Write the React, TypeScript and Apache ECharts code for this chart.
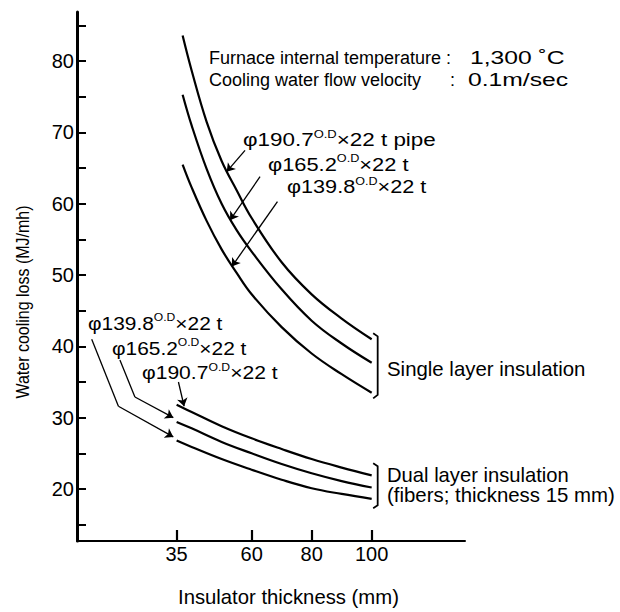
import React, { useEffect, useRef } from "react";
import * as echarts from "echarts";

const FF = "'Liberation Sans', Arial, Helvetica, sans-serif";

// Axis ranges, ticks / labels
const X_MIN = 1.8;
const X_MAX = 131.1;
const Y_MIN = 12.7;
const Y_MAX = 86.9;
const xTicks = [35, 60, 80, 100];
const yTicks = [15, 20, 25, 30, 35, 40, 45, 50, 55, 60, 65, 70, 75, 80, 85];
const yLabels = [20, 30, 40, 50, 60, 70, 80];

// Single layer insulation curves (x = insulator thickness mm)
const singleX = [37, 40, 45, 50, 55, 60, 70, 80, 90, 100];
const single1907 = [83.6, 78.7, 71.5, 66.0, 61.9, 58.0, 51.8, 47.3, 43.9, 41.0];
const single1652 = [75.3, 71.0, 64.9, 60.0, 56.3, 53.3, 48.0, 43.6, 40.4, 37.7];
const single1398 = [65.5, 62.3, 57.6, 53.6, 50.3, 47.3, 42.7, 39.0, 36.1, 33.5];

// Dual layer insulation curves
const dualX = [35, 40, 50, 60, 70, 80, 90, 100];
const dual1907 = [31.8, 30.8, 28.8, 27.1, 25.6, 24.2, 23.0, 21.9];
const dual1652 = [29.4, 28.5, 26.6, 25.0, 23.5, 22.2, 21.1, 20.2];
const dual1398 = [26.8, 25.9, 24.2, 22.7, 21.3, 20.1, 19.3, 18.6];

// Annotation arrows (data coords): straight arrows with heads
const arrowSegments = [
  [[57.8, 67.5], [51.7, 64.5]],
  [[62.8, 63.8], [52.8, 57.7]],
  [[68.6, 60.3], [53.4, 51.2]],
  [[15.6, 31.6], [33.9, 27.3]],
  [[21.1, 32.9], [33.9, 30.0]],
  [[35.6, 35.0], [37.5, 31.6]],
];
// Leader lines without heads
const leaderSegments = [
  [[6.7, 41.0], [15.6, 31.6]],
  [[16.1, 38.1], [21.1, 32.9]],
];
// Brackets
const bracketSingle = [[100.5, 41.85], [102.0, 41.4], [102.0, 33.2], [100.5, 32.7]];
const bracketDual = [[100.5, 23.6], [102.0, 23.2], [102.0, 17.7], [100.5, 17.3]];

const supLabel = (d: string, tail: string) => `{m|φ${d}}{s|O.D}{m|×22 t${tail}}`;

export default function App() {
  const ref = useRef<HTMLDivElement>(null);
  useEffect(() => {
    if (!ref.current) return;
    const chart = echarts.init(ref.current, null, { renderer: "svg" });
    const curve = (xs: number[], ys: number[]) => ({
      type: "line",
      data: xs.map((x, i) => [x, ys[i]]),
      smooth: 0.4,
      symbol: "none",
      lineStyle: { color: "#000", width: 2.2 },
      silent: true,
    });
    const rich = {
      m: { fontSize: 19, fontFamily: FF, lineHeight: 22, fill: "#000" },
      s: { fontSize: 11, fontFamily: FF, lineHeight: 10, verticalAlign: "top", fill: "#000" },
    };
    const txt = (x: number, y: number, text: string, size = 18, sx = 1, sy = 1) => ({
      type: "text",
      x,
      y,
      scaleX: sx,
      scaleY: sy,
      silent: true,
      style: {
        text,
        fill: "#000",
        fontSize: size,
        fontFamily: FF,
        textAlign: "left",
        textVerticalAlign: "middle",
        align: "left",
        verticalAlign: "middle",
      },
    });
    const richTxt = (x: number, y: number, text: string, sx = 1.14) => ({
      type: "text",
      x,
      y,
      scaleX: sx,
      silent: true,
      style: {
        text,
        rich,
        fill: "#000",
        fontSize: 19,
        fontFamily: FF,
        textAlign: "left",
        textVerticalAlign: "middle",
        align: "left",
        verticalAlign: "middle",
      },
    });
    chart.setOption({
      animation: false,
      backgroundColor: "#fff",
      grid: { left: 77, right: 155, top: 12, bottom: 71 },
      xAxis: {
        type: "value",
        min: X_MIN,
        max: X_MAX,
        axisLine: { show: true, onZero: false, lineStyle: { color: "#000", width: 2 } },
        axisTick: { show: true, inside: true, length: 11, customValues: xTicks, lineStyle: { color: "#000", width: 2.2 } },
        axisLabel: { customValues: xTicks, color: "#000", fontSize: 20, fontFamily: FF, margin: 3 },
        splitLine: { show: false },
      },
      yAxis: {
        type: "value",
        min: Y_MIN,
        max: Y_MAX,
        axisLine: { show: true, onZero: false, lineStyle: { color: "#000", width: 3 } },
        axisTick: { show: true, inside: true, length: 9, customValues: yTicks, lineStyle: { color: "#000", width: 2 } },
        axisLabel: { customValues: yLabels, color: "#000", fontSize: 20, fontFamily: FF, margin: 3 },
        splitLine: { show: false },
      },
      series: [
        curve(singleX, single1907),
        curve(singleX, single1652),
        curve(singleX, single1398),
        curve(dualX, dual1907),
        curve(dualX, dual1652),
        curve(dualX, dual1398),
        {
          type: "lines",
          coordinateSystem: "cartesian2d",
          symbol: ["none", "arrow"],
          symbolSize: 8,
          silent: true,
          lineStyle: { color: "#000", width: 1.3, opacity: 1, curveness: 0 },
          data: arrowSegments.map((c) => ({ coords: c })),
        },
        {
          type: "lines",
          coordinateSystem: "cartesian2d",
          polyline: true,
          silent: true,
          lineStyle: { color: "#000", width: 1.3, opacity: 1 },
          data: leaderSegments.map((c) => ({ coords: c })),
        },
        {
          type: "lines",
          coordinateSystem: "cartesian2d",
          polyline: true,
          silent: true,
          lineStyle: { color: "#000", width: 1.8, opacity: 1 },
          data: [{ coords: bracketSingle }, { coords: bracketDual }],
        },
      ],
      graphic: [
        txt(209, 58, "Furnace internal temperature :", 18),
        txt(470, 58, "1,300 ˚C", 19, 1.3),
        txt(209, 80, "Cooling water flow velocity", 18),
        txt(450, 80, ":", 18),
        txt(468, 80, "0.1m/sec", 19, 1.3),
        richTxt(243, 139.5, supLabel("190.7", " pipe"), 1.18),
        richTxt(268, 164, supLabel("165.2", ""), 1.15),
        richTxt(287, 186, supLabel("139.8", ""), 1.14),
        richTxt(88, 323, supLabel("139.8", ""), 1.1),
        richTxt(112, 348, supLabel("165.2", ""), 1.1),
        richTxt(142, 372, supLabel("190.7", ""), 1.11),
        txt(387, 369, "Single layer insulation", 20.4),
        txt(387, 475, "Dual layer insulation", 20.2),
        txt(387, 495, "(fibers; thickness 15 mm)", 20.4),
        txt(178, 597, "Insulator thickness (mm)", 20.3),
        {
          type: "text",
          x: 22,
          y: 302,
          rotation: Math.PI / 2,
          scaleY: 1.2,
          silent: true,
          style: {
            text: "Water cooling loss (MJ/mh)",
            fill: "#000",
            fontSize: 16,
            fontFamily: FF,
            textAlign: "center",
            textVerticalAlign: "middle",
            align: "center",
            verticalAlign: "middle",
          },
        },
      ],
    });
    return () => chart.dispose();
  }, []);
  return (
    <div
      ref={ref}
      style={{ position: "absolute", left: 0, top: 0, width: 620, height: 612, background: "#fff" }}
    />
  );
}
